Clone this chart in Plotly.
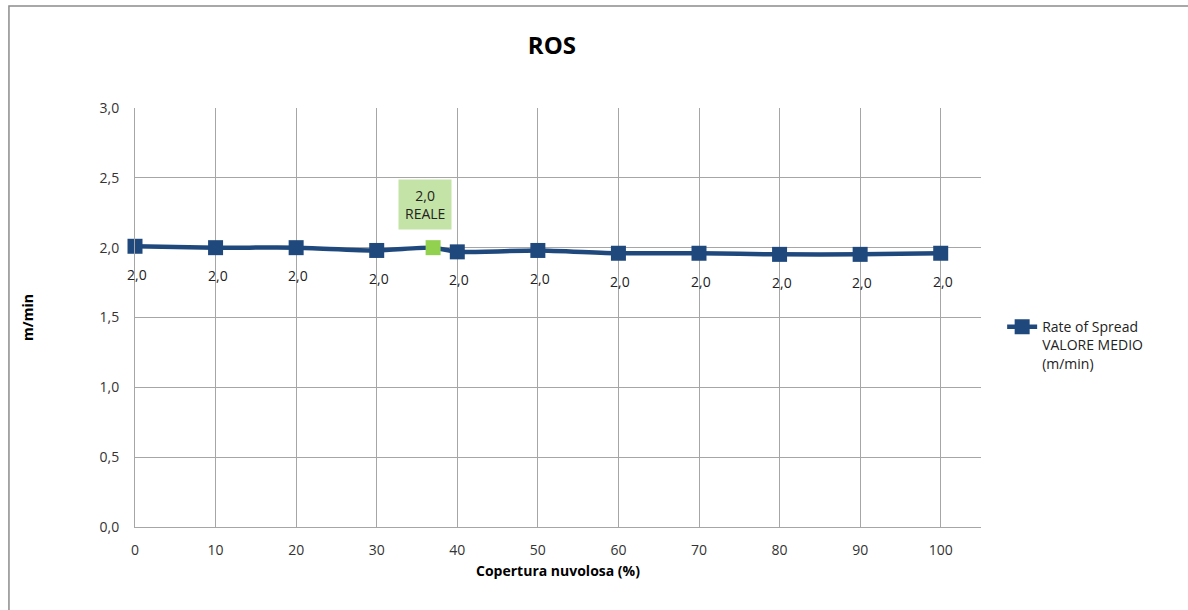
import plotly.graph_objects as go

# Cloud cover (%) and mean rate of spread (m/min); the 37% point is the observed value
cloud_cover = [0, 10, 20, 30, 37, 40, 50, 60, 70, 80, 90, 100]
ros_mean = [2.01, 2.00, 2.00, 1.98, 2.00, 1.97, 1.98, 1.96, 1.96, 1.952, 1.952, 1.96]
real_index = 4
real_label = "REALE"

x_ticks = [0, 10, 20, 30, 40, 50, 60, 70, 80, 90, 100]
y_ticks = [0, 0.5, 1.0, 1.5, 2.0, 2.5, 3.0]

BLUE = "#1F497D"
GREEN = "#92D050"
FONT = "Open Sans, Liberation Sans, sans-serif"


def fmt(v):
    return f"{v:.1f}".replace(".", ",")


marker_colors = [GREEN if i == real_index else BLUE for i in range(len(cloud_cover))]

fig = go.Figure()
fig.add_trace(go.Scatter(
    x=cloud_cover,
    y=ros_mean,
    mode="lines+markers",
    name="Rate of Spread<br>VALORE MEDIO<br>(m/min)",
    line=dict(color=BLUE, width=4.5, shape="spline", smoothing=0.6),
    marker=dict(symbol="square", size=15, color=marker_colors),
    cliponaxis=False,
))

# value labels under each modelled point
for i, (xv, yv) in enumerate(zip(cloud_cover, ros_mean)):
    if i == real_index:
        continue
    fig.add_annotation(x=xv, y=yv, text=fmt(yv), showarrow=False,
                       xshift=2, yshift=-28,
                       font=dict(family=FONT, size=14, color="#222222"))

# highlighted label for the observed value
fig.add_annotation(
    x=cloud_cover[real_index], y=ros_mean[real_index],
    text=fmt(ros_mean[real_index]) + "<br>" + real_label, showarrow=False,
    xshift=-8, yshift=43,
    bgcolor="#C4E3A6",
    borderpad=6,
    font=dict(family=FONT, size=14, color="#222222"),
)

# outer chart frame
fig.add_shape(type="rect", xref="paper", yref="paper",
              x0=-0.149, x1=1.3, y0=-0.3, y1=1.2434,
              line=dict(color="#8c8c8c", width=1.5), layer="below")

fig.update_layout(
    width=1188, height=610,
    margin=dict(l=135, r=207, t=108, b=83),
    paper_bgcolor="white",
    plot_bgcolor="white",
    separators=",.",
    title=dict(text="<b>ROS</b>", x=0.4646, xanchor="center", y=0.925, yanchor="middle",
               font=dict(family=FONT, size=24, color="#000000")),
    font=dict(family=FONT, size=14, color="#333333"),
    showlegend=True,
    legend=dict(x=1.025, y=0.434, xanchor="left", yanchor="middle", valign="top",
                font=dict(family=FONT, size=14, color="#222222"),
                bgcolor="rgba(0,0,0,0)"),
    xaxis=dict(
        range=[0, 105], tickmode="array", tickvals=x_ticks,
        showgrid=True, gridcolor="#a6a6a6", gridwidth=1,
        showline=True, linecolor="#a6a6a6", zeroline=False,
        ticks="", ticklabelstandoff=10,
        title=dict(text="<b>Copertura nuvolosa (%)</b>", standoff=8,
                   font=dict(family=FONT, size=14, color="#000000")),
        tickfont=dict(family=FONT, size=14, color="#333333"),
    ),
    yaxis=dict(
        range=[0, 3.0], tickmode="array", tickvals=y_ticks, tickformat=".1f",
        showgrid=True, gridcolor="#a6a6a6", gridwidth=1,
        showline=True, linecolor="#a6a6a6", zeroline=False,
        ticks="", ticklabelstandoff=12,
        title=dict(text="<b>m/min</b>", standoff=62,
                   font=dict(family=FONT, size=14, color="#000000")),
        tickfont=dict(family=FONT, size=14, color="#333333"),
    ),
)

fig.write_html("out.html")
